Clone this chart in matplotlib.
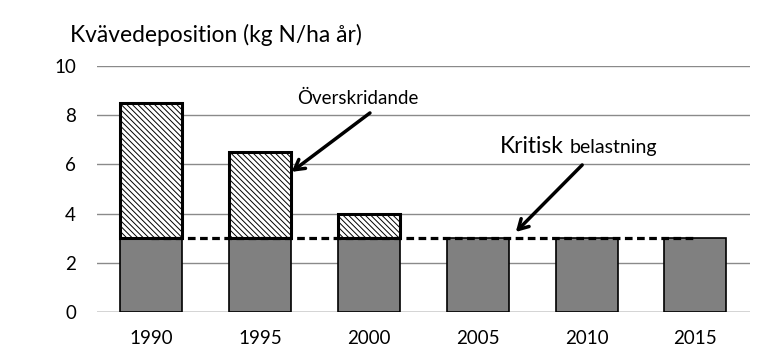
import numpy as np
import matplotlib
matplotlib.use('Agg')
import matplotlib.pyplot as plt

plt.rcParams['font.family'] = ['Lato', 'DejaVu Sans']
plt.rcParams['hatch.linewidth'] = 0.7
plt.rcParams['hatch.color'] = '#a0a0a0'

years = ['1990', '1995', '2000', '2005', '2010', '2015']
critical_load = [3, 3, 3, 3, 3, 3]
deposition = [8.5, 6.5, 4.0, 3.0, 3.0, 3.0]
exceedance = [d - c for d, c in zip(deposition, critical_load)]

fig = plt.figure(figsize=(7.62, 3.64), dpi=100)
ax = fig.add_axes([0.127, 0.142, 0.857, 0.677])

x = np.arange(len(years))
w = 0.57

ax.bar(x, critical_load, w, color='#808080', edgecolor='black', lw=1.2, zorder=2)
hx = [i for i, e in zip(x, exceedance) if e > 0]
he = [e for e in exceedance if e > 0]
hb = [c for c, e in zip(critical_load, exceedance) if e > 0]
ax.bar(hx, he, w, bottom=hb, color='white', edgecolor='black', lw=2.2,
       hatch='\\' * 6, zorder=2)

# critical load line
ax.plot([x[0], x[-1]], [critical_load[0], critical_load[-1]], color='black',
        ls=(0, (2.4, 1.4)), lw=2.3, zorder=3)

ax.set_xlim(-0.5, len(years) - 0.5)
ax.set_ylim(0, 10)
ax.set_yticks([0, 2, 4, 6, 8, 10])
ax.set_xticks(x)
ax.set_xticklabels(years)
ax.yaxis.grid(True, color='#8a8a8a', lw=1)
ax.set_axisbelow(True)
ax.tick_params(length=0, labelsize=13.5, colors='black')
ax.tick_params(axis='y', pad=15)
ax.tick_params(axis='x', pad=13)
for s in ax.spines.values():
    s.set_visible(False)
ax.axhline(0, color='#8a8a8a', lw=1, zorder=1)

fig.text(0.092, 0.885, 'Kvävedeposition (kg N/ha år)', fontsize=16.4,
         ha='left', va='baseline')

arrow = dict(arrowstyle='->,head_length=0.7,head_width=0.4', lw=2.5,
             color='black', shrinkA=0, shrinkB=0)
ax.text(1.90, 8.35, 'Överskridande', fontsize=13.5, ha='center', va='bottom')
ax.annotate('', xy=(1.29, 5.70), xytext=(2.01, 8.09), arrowprops=arrow)

t1 = ax.text(3.20, 6.45, 'Kritisk', fontsize=16.4, ha='left', va='baseline')
fig.canvas.draw()
bb = t1.get_window_extent()
x2 = ax.transData.inverted().transform((bb.x1 + 6, 0))[0]
ax.text(x2, 6.45, 'belastning', fontsize=14, ha='left', va='baseline')
ax.annotate('', xy=(3.35, 3.26), xytext=(3.96, 5.98), arrowprops=arrow)

fig.savefig('out.png', dpi=100)
